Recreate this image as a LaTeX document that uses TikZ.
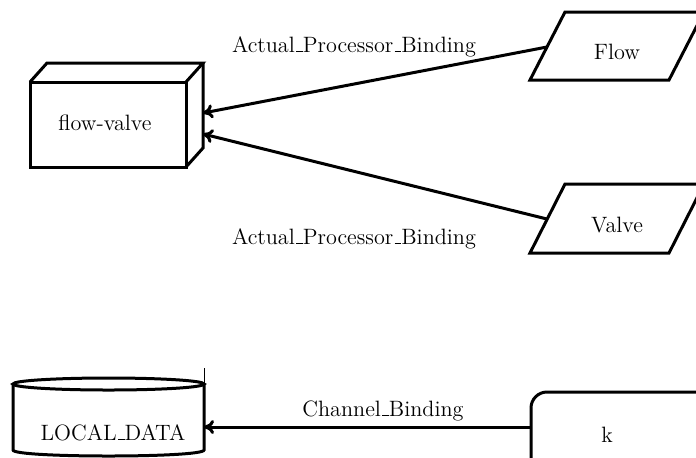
\documentclass[tikz,border=0pt]{standalone}
\usetikzlibrary{arrows.meta}
\newcommand\ubar{\leavevmode\kern.06em\vbox{\hrule width.3em}}
\begin{document}
\begin{tikzpicture}[x=0.5pt,y=-0.5pt,
  shape line/.style={line width=1.5pt, line join=miter},
  conn/.style={line width=1.5pt, -{To[length=5pt,width=7pt]}},
  lbl/.style={inner sep=0pt, anchor=base, font=\fontsize{11.1}{13}\selectfont}]
\useasboundingbox (0,0) rectangle (696,457);
\clip (0,0) rectangle (696,457);
% flow-valve box (3D)
\draw[shape line] (30,82) rectangle (186,167);
\draw[shape line] (30,82) -- (47,63) -- (203,63) -- (186,82);
\draw[shape line] (203,63) -- (203,148) -- (186,167);
\node[lbl] (fv) at (105,130) {flow-valve};
\coordinate (fvA) at (203,113);
\coordinate (fvB) at (203,134);
% Flow parallelogram
\draw[shape line] (530,80) -- (565,12) -- (704,12) -- (669,80) -- cycle;
\node[lbl] (flow) at (617,59) {Flow};
\coordinate (flowL) at (547,47);
% Valve parallelogram
\draw[shape line] (530,253) -- (565,184) -- (704,184) -- (669,253) -- cycle;
\node[lbl] (valve) at (617,232) {Valve};
\coordinate (valveL) at (547,219);
% LOCAL_DATA cylinder
\draw[shape line] (108.5,384) ellipse [x radius=95.5, y radius=6];
\draw[shape line] (13,384) -- (13,450) .. controls (13,458) and (204,458) .. (204,450) -- (204,384);
\draw[line width=0.5pt] (204,368) -- (204,384);
\node[lbl] (ld) at (113,440) {LOCAL\ubar DATA};
\coordinate (ldR) at (204,427);
% k rounded rectangle
\draw[shape line, rounded corners=8pt] (531,392) rectangle (740,490);
\node[lbl] (k) at (607,442) {k};
\coordinate (kL) at (531,427);
% connectors
\draw[conn] (flowL) -- (fvA);
\draw[conn] (valveL) -- (fvB);
\draw[conn] (kL) -- (ldR);
% labels
\node[lbl] (l1) at (354,52) {Actual\ubar Processor\ubar Binding};
\node[lbl] (l2) at (354,244) {Actual\ubar Processor\ubar Binding};
\node[lbl] (l3) at (383,416) {Channel\ubar Binding};
\end{tikzpicture}
\end{document}
